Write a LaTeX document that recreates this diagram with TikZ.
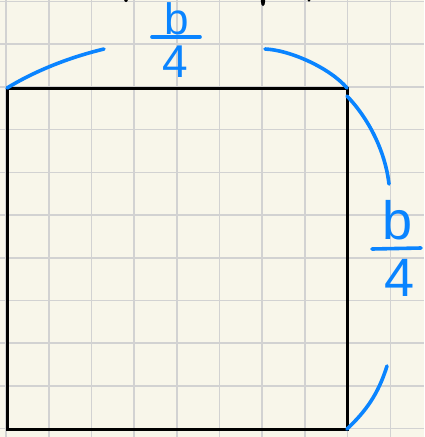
\documentclass[tikz,border=0pt]{standalone}
\usepackage{fontspec}
\setsansfont{Liberation Sans}
\definecolor{paper}{RGB}{248,246,234}
\definecolor{gridgray}{RGB}{210,210,210}
\definecolor{pen}{RGB}{10,132,255}
\tikzset{
  gridline/.style={draw=gridgray, line width=1.6pt},
  penline/.style={draw=pen, line width=3.6pt, line cap=round},
  sq/.style={draw=black, line width=3pt},
  hand/.style={text=pen, font=\sffamily\fontsize{44}{44}\selectfont, inner sep=0pt, anchor=center},
  handbig/.style={hand, font=\sffamily\fontsize{54}{54}\selectfont},
}
\begin{document}
\begin{tikzpicture}[x=1pt,y=-1pt]
\useasboundingbox (0,0) rectangle (424,437);
\fill[paper] (0,0) rectangle (424,437);
% grid
\foreach \i in {0,...,9} {
  \draw[gridline] ({6+42.7*\i},0) -- ({6+42.7*\i},437);
}
\foreach \j in {0,...,10} {
  \draw[gridline] (0,{1.5+42.7*\j}) -- (424,{1.5+42.7*\j});
}
% marks at top edge
\fill[black] (126,0) ellipse (1.8pt and 2pt);
\fill[black] (263,1) ellipse (2.2pt and 5pt);
\fill[black] (309,0) ellipse (1.6pt and 1.8pt);
% square
\coordinate (tl) at (7,88);
\coordinate (tr) at (347,88);
\coordinate (br) at (347,429);
\coordinate (bl) at (7,429);
\draw[sq, line join=miter] (tl) -- (tr) -- (br) -- (bl) -- cycle;
% top label
\node[hand] (tb) at (177,19) {b};
\node[hand,font=\sffamily\fontsize{46}{46}\selectfont] (tf) at (175,62) {4};
\coordinate (tbarl) at (152,37);
\coordinate (tbarr) at (200,37);
\draw[penline] (tbarl) -- (tbarr);
% right label
\node[handbig] (rb) at (398,220) {b};
\node[handbig] (rf) at (400,278) {4};
\coordinate (rbarl) at (372,249);
\coordinate (rbarr) at (421,248);
\draw[penline] (rbarl) -- (rbarr);
% arcs
\coordinate (a1) at (104,49);
\coordinate (a2) at (265,49);
\coordinate (a3) at (389,184);
\coordinate (a4) at (387,366);
\coordinate (tr2) at (347,96);
\draw[penline] (tl) .. controls (40,68) and (75,56) .. (a1);
\draw[penline] (a2) .. controls (290,50) and (330,68) .. (tr);
\draw[penline] (tr2) .. controls (368,118) and (385,150) .. (a3);
\draw[penline] (a4) .. controls (378,395) and (365,412) .. (br);
\end{tikzpicture}
\end{document}
